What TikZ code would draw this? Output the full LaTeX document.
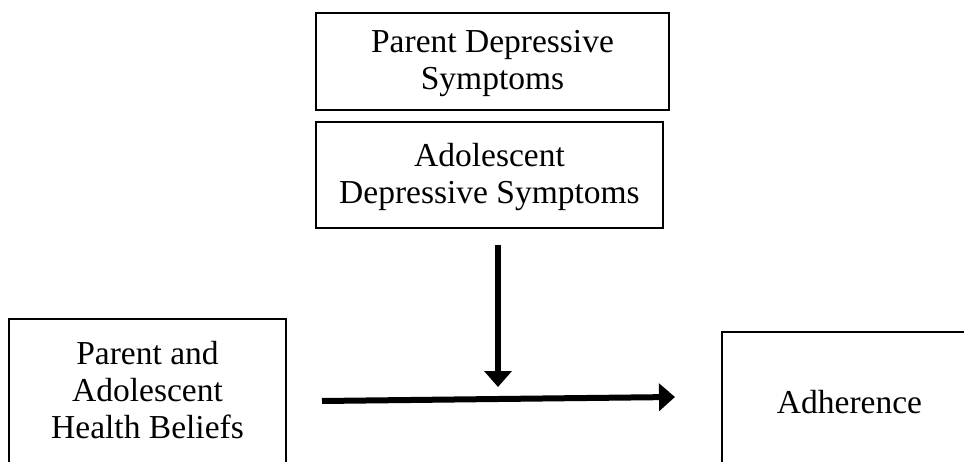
\documentclass[tikz,border=0pt]{standalone}
\usepackage{fontspec}
\setmainfont{Liberation Serif}
\usetikzlibrary{arrows.meta}
\begin{document}
\begin{tikzpicture}[x=1pt,y=-1pt,
  boxnode/.style={draw=black,line width=2pt,rectangle,inner sep=0pt},
  txtnode/.style={align=center,inner sep=0pt,font=\fontsize{33.5}{37}\selectfont},
  bigarrow/.style={line width=6pt,-{Triangle[length=16pt,width=27pt]}}]
\useasboundingbox (0,0) rectangle (964,462);
\clip (0,0) rectangle (964,462);
% upper moderator boxes
\node[boxnode,minimum width=353pt,minimum height=97pt] (P) at (492.5,61.3) {};
\node[txtnode] (Pt) at (492.5,64) {Parent Depressive\\Symptoms};
\node[boxnode,minimum width=347pt,minimum height=106pt] (A) at (489.5,175) {};
\node[txtnode] (At) at (489.5,176.5) {Adolescent\\Depressive Symptoms};
% predictor and outcome boxes
\node[boxnode,minimum width=277pt,minimum height=170pt] (L) at (147.5,404) {};
\node[txtnode] (Lt) at (147.5,390) {Parent and\\Adolescent\\Health Beliefs};
\node[boxnode,minimum width=255pt,minimum height=160pt] (R) at (849.5,412) {};
\node[txtnode] (Rt) at (849.5,402) {Adherence};
% arrows
\coordinate (vstart) at (498,245);
\coordinate (vend) at (498,387);
\coordinate (hstart) at (322,401);
\coordinate (hend) at (675,397);
\draw[bigarrow] (vstart) -- (vend);
\draw[bigarrow] (hstart) -- (hend);
\end{tikzpicture}
\end{document}
